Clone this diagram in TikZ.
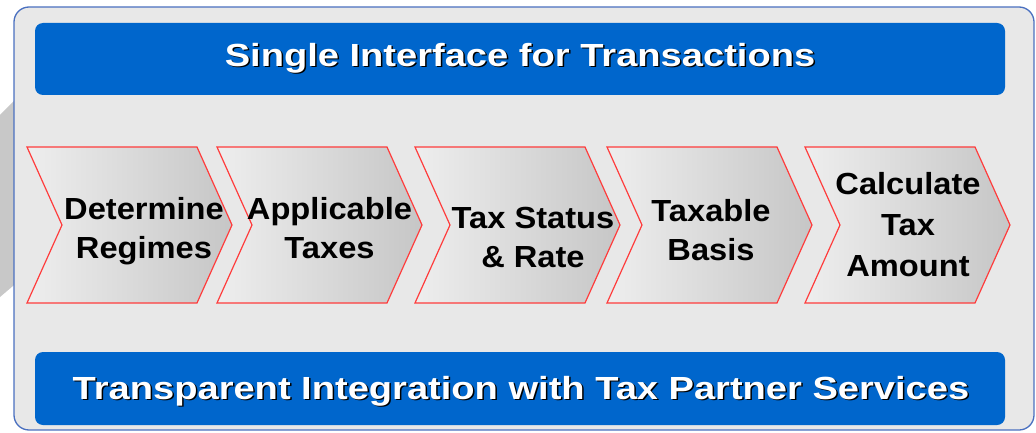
\documentclass[tikz,border=0pt]{standalone}
\usepackage{fontspec}
\setmainfont{Liberation Sans}
\newfontfamily\widefont[FakeStretch=1.19]{Liberation Sans}
\newfontfamily\chevfont[FakeStretch=1.07]{Liberation Sans}
\definecolor{barblue}{HTML}{0066CC}
\definecolor{panelgray}{HTML}{E8E8E8}
\definecolor{panelline}{HTML}{4A70C0}
\definecolor{backgray}{HTML}{C8C8C8}
\definecolor{chevred}{HTML}{FF3C3C}
\definecolor{chevlight}{HTML}{EEEEEE}
\definecolor{chevdark}{HTML}{C6C6C6}
\tikzset{
  chev/.style={draw=chevred,line width=1.2pt,left color=chevlight,right color=chevdark},
  steptext/.style={font=\chevfont\bfseries\fontsize{30.5}{39}\selectfont,align=center,inner sep=0pt},
  bar/.style={fill=barblue,rounded corners=8pt,inner sep=0pt},
  bartext/.style={font=\widefont\bfseries\fontsize{32}{38}\selectfont,text=white,anchor=base,inner sep=0pt},
  barshadow/.style={bartext,text=black}
}

\begin{document}
\begin{tikzpicture}[x=1pt,y=-1pt]
    \useasboundingbox (0,0) rectangle (1036,433);
    % grey shape behind the panel
    \fill[backgray] (0,115) -- (20,95) -- (20,280) -- (0,297) -- cycle;
    \draw[fill=panelgray,draw=panelline,line width=1.3pt,rounded corners=15pt] (14,7) rectangle (1034,430);
    % the two bars
    \node[bar,minimum width=970pt,minimum height=72pt] (topbar) at (520,59) {};
    \node[bar,minimum width=970pt,minimum height=73pt] (botbar) at (520,388.5) {};
    \node[barshadow] (topshadow) at (521.5,68) {Single Interface for Transactions};
    \node[bartext] (toptitle) at (520,66.5) {Single Interface for Transactions};
    \node[barshadow] (botshadow) at (522.5,400.5) {Transparent Integration with Tax Partner Services};
    \node[bartext] (bottitle) at (521,399) {Transparent Integration with Tax Partner Services};
    % the five steps
    \foreach \x in {27,217,415,607,805}
        \path[chev] (\x,147) -- ++(170,0) -- ++(35,78) -- ++(-35,78) -- ++(-170,0) -- ++(35,-78) -- cycle;
    \node[steptext] (regimes) at (144,231) {Determine\\Regimes};
    \node[steptext] (taxes) at (329.5,228) {Applicable\\Taxes};
    \node[steptext] (status) at (533,237) {Tax Status\\\& Rate};
    \node[steptext] (basis) at (711,230) {Taxable\\Basis};
    \node[steptext,font=\chevfont\bfseries\fontsize{30.5}{41}\selectfont] (amount) at (908,225) {Calculate\\Tax\\Amount};
\end{tikzpicture}
\end{document}
